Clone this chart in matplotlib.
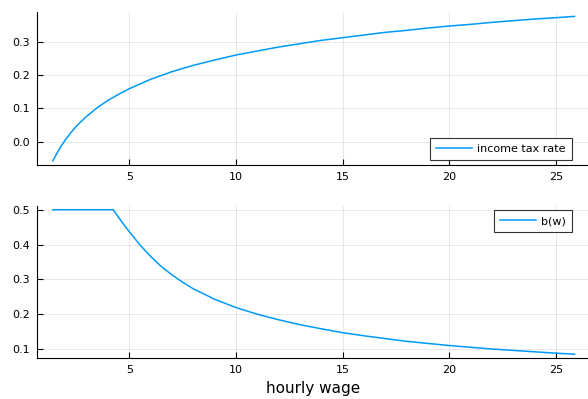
import matplotlib
matplotlib.use("Agg")
import matplotlib.pyplot as plt

# Income tax rate as a function of the hourly wage
wage_tax = [1.42, 1.6, 1.8, 2.0, 2.25, 2.5, 2.75, 3.0, 3.5, 4.0, 4.5, 5, 6, 7,
            8, 9, 10, 11, 12, 13, 14, 15, 16, 17, 18, 19, 20, 21, 22, 23, 24,
            25, 25.88]
tax_rate = [-0.057, -0.036, -0.014, 0.005, 0.026, 0.045, 0.061, 0.076, 0.102,
            0.124, 0.142, 0.159, 0.187, 0.210, 0.229, 0.245, 0.260, 0.272,
            0.284, 0.294, 0.304, 0.312, 0.320, 0.328, 0.334, 0.341, 0.347,
            0.352, 0.358, 0.363, 0.368, 0.372, 0.376]

# Benefit b(w) as a function of the hourly wage
wage_b = [1.42, 4.25, 4.5, 4.75, 5.0, 5.5, 6.0, 6.5, 7.0, 7.5, 8.0, 9.0, 10,
          11, 12, 13, 14, 15, 16, 17, 18, 19, 20, 21, 22, 23, 24, 25, 25.88]
b_w = [0.5, 0.5, 0.478, 0.457, 0.437, 0.399, 0.366, 0.337, 0.313, 0.292,
       0.273, 0.243, 0.219, 0.200, 0.184, 0.170, 0.158, 0.147, 0.138, 0.130,
       0.122, 0.116, 0.110, 0.105, 0.100, 0.096, 0.092, 0.088, 0.085]

x_ticks = [5, 10, 15, 20, 25]
tax_ticks = [0.0, 0.1, 0.2, 0.3]
b_ticks = [0.1, 0.2, 0.3, 0.4, 0.5]

LINE = "#009AFA"
W, H = 588, 399

fig = plt.figure(figsize=(W / 100, H / 100), dpi=100)
fig.patch.set_facecolor("white")


def px_axes(left, top, right, bottom):
    return fig.add_axes([left / W, 1 - bottom / H, (right - left) / W,
                         (bottom - top) / H])


def style(ax):
    for s in ("top", "right"):
        ax.spines[s].set_visible(False)
    for s in ("left", "bottom"):
        ax.spines[s].set_color("black")
        ax.spines[s].set_linewidth(0.8)
    ax.grid(True, color="#000000", alpha=0.1, linewidth=0.6)
    ax.set_axisbelow(True)
    ax.tick_params(direction="in", length=4, width=0.8, labelsize=8,
                   pad=5, colors="black")
    ax.set_xticks(x_ticks)
    ax.set_xticklabels([str(t) for t in x_ticks])
    ax.set_xlim(0.689, 26.51)


ax1 = px_axes(37.3, 11.7, 588, 165)
ax1.plot(wage_tax, tax_rate, color=LINE, linewidth=1.1, label="income tax rate")
style(ax1)
ax1.set_ylim(-0.070, 0.390)
ax1.set_yticks(tax_ticks)
ax1.set_yticklabels([f"{t:.1f}" for t in tax_ticks])
leg1 = ax1.legend(loc="lower right", bbox_to_anchor=(571.7 / W, 1 - 160.3 / H),
                  bbox_transform=fig.transFigure, fontsize=8, frameon=True,
                  fancybox=False, edgecolor="#333333", framealpha=1,
                  handlelength=3.2, handletextpad=0.5, borderpad=0.55,
                  borderaxespad=0)
leg1.get_frame().set_linewidth(0.8)

ax2 = px_axes(37.3, 205.7, 588, 358.3)
ax2.plot(wage_b, b_w, color=LINE, linewidth=1.1, label="b(w)")
style(ax2)
ax2.set_ylim(0.0733, 0.5115)
ax2.set_yticks(b_ticks)
ax2.set_yticklabels([f"{t:.1f}" for t in b_ticks])
ax2.set_xlabel("hourly wage", fontsize=11, labelpad=4)
leg2 = ax2.legend(loc="upper right", bbox_to_anchor=(572.3 / W, 1 - 210 / H),
                  bbox_transform=fig.transFigure, fontsize=8, frameon=True,
                  fancybox=False, edgecolor="#333333", framealpha=1,
                  handlelength=3.2, handletextpad=0.5, borderpad=0.55,
                  borderaxespad=0)
leg2.get_frame().set_linewidth(0.8)

fig.savefig("out.png", dpi=100)
